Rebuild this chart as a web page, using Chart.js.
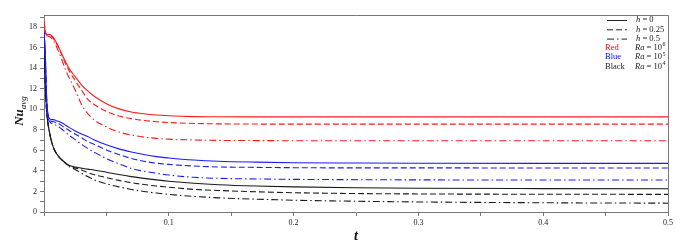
<!DOCTYPE html>
<html>
<head>
<meta charset="utf-8">
<script src="https://cdn.jsdelivr.net/npm/chart.js@4/dist/chart.umd.min.js"></script>
<style>
  body { margin: 0; background: #fff; }
  #wrap { position: relative; width: 692px; height: 252px; }
</style>
</head>
<body>
<div id="wrap"><canvas id="myChart" width="692" height="252"></canvas></div>
<script>
// time values (t)
var tValues = [0, 0.001, 0.002, 0.003, 0.005, 0.0075, 0.01, 0.0125, 0.015, 0.0175, 0.02, 0.025, 0.03, 0.035, 0.04,
  0.05, 0.06, 0.07, 0.08, 0.09, 0.1, 0.12, 0.14, 0.17, 0.2, 0.25, 0.3, 0.4, 0.5];

// Ra = 10^6
var redH0   = [18.6, 17.6, 17.3, 17.3, 17.3, 17.0, 16.5, 15.9, 15.2, 14.6, 14.0, 13.2, 12.4, 11.8, 11.3,
  10.55, 10.05, 9.75, 9.57, 9.45, 9.38, 9.3, 9.28, 9.27, 9.27, 9.27, 9.27, 9.27, 9.27];
var redH025 = [18.6, 17.6, 17.3, 17.25, 17.2, 16.9, 16.4, 15.8, 15.1, 14.4, 13.8, 12.8, 11.9, 11.0, 10.5,
  9.8, 9.35, 9.1, 8.92, 8.8, 8.72, 8.63, 8.59, 8.57, 8.56, 8.56, 8.56, 8.56, 8.56];
var redH05  = [18.6, 17.5, 17.2, 17.15, 17.05, 16.7, 16.1, 15.4, 14.6, 13.8, 13.1, 11.9, 10.5, 9.6, 9.0,
  8.3, 7.8, 7.5, 7.3, 7.18, 7.1, 7.02, 6.98, 6.96, 6.95, 6.95, 6.95, 6.95, 6.95];

// Ra = 10^5
var blueH0   = [17.6, 15.5, 11.5, 9.7, 9.05, 9.0, 8.9, 8.8, 8.65, 8.45, 8.25, 7.9, 7.6, 7.35, 7.05,
  6.55, 6.15, 5.85, 5.6, 5.4, 5.27, 5.07, 4.95, 4.86, 4.8, 4.77, 4.75, 4.74, 4.74];
var blueH025 = [17.6, 15.5, 11.4, 9.6, 8.9, 8.8, 8.68, 8.55, 8.35, 8.15, 7.95, 7.6, 7.25, 6.85, 6.6,
  6.05, 5.6, 5.22, 4.95, 4.76, 4.64, 4.48, 4.39, 4.35, 4.32, 4.3, 4.3, 4.29, 4.29];
var blueH05  = [17.6, 15.4, 11.2, 9.5, 8.74, 8.6, 8.42, 8.25, 8.0, 7.75, 7.5, 7.05, 6.6, 6.2, 5.85,
  5.2, 4.7, 4.25, 3.98, 3.78, 3.6, 3.38, 3.28, 3.22, 3.18, 3.15, 3.13, 3.12, 3.12];

// Ra = 10^4
var blackH0   = [17.5, 12.5, 10.0, 8.8, 7.4, 6.3, 5.7, 5.3, 5.0, 4.75, 4.55, 4.38, 4.28, 4.18, 4.1,
  3.88, 3.65, 3.45, 3.28, 3.13, 3.0, 2.8, 2.66, 2.53, 2.45, 2.36, 2.31, 2.28, 2.27];
var blackH025 = [17.5, 12.5, 10.0, 8.8, 7.4, 6.3, 5.7, 5.3, 5.0, 4.74, 4.5, 4.3, 4.1, 3.85, 3.65,
  3.35, 3.08, 2.85, 2.68, 2.53, 2.42, 2.2, 2.1, 1.97, 1.88, 1.8, 1.76, 1.73, 1.72];
var blackH05  = [17.5, 12.5, 10.0, 8.8, 7.4, 6.3, 5.7, 5.3, 5.0, 4.72, 4.45, 4.15, 3.8, 3.45, 3.15,
  2.75, 2.45, 2.2, 2.0, 1.85, 1.72, 1.52, 1.38, 1.25, 1.15, 1.05, 0.98, 0.9, 0.86];

// tick labels
var xTickLabels = ['0.1', '0.2', '0.3', '0.4', '0.5'];
var yTickLabels = ['0', '2', '4', '6', '8', '10', '12', '14', '16', '18'];

var SERIF = "'Liberation Serif', 'DejaVu Serif', serif";
var dashed = [6, 3];
var dashDot = [7, 3, 1.5, 3];

function makeSet(values, color, dash) {
  var pts = [];
  for (var i = 0; i < tValues.length; i++) {
    pts.push({ x: tValues[i], y: values[i] });
  }
  return {
    data: pts,
    borderColor: color,
    borderWidth: 1.1,
    borderDash: dash,
    pointRadius: 0,
    fill: false,
    cubicInterpolationMode: 'monotone'
  };
}

// frame, axis titles and the custom legend
var extras = {
  id: 'extras',
  afterDraw: function(chart) {
    var ctx = chart.ctx;
    var a = chart.chartArea;
    ctx.save();
    ctx.strokeStyle = '#777';
    ctx.lineWidth = 1;
    ctx.beginPath();
    ctx.moveTo(a.left, a.top + 0.5);
    ctx.lineTo(a.right + 0.5, a.top + 0.5);
    ctx.lineTo(a.right + 0.5, a.bottom);
    ctx.stroke();

    // x title
    ctx.fillStyle = '#111';
    ctx.textAlign = 'center';
    ctx.textBaseline = 'middle';
    ctx.font = 'italic bold 14px ' + SERIF;
    ctx.fillText('t', (a.left + a.right) / 2, 236);

    // y title
    ctx.save();
    ctx.translate(20, 111);
    ctx.rotate(-Math.PI / 2);
    ctx.textAlign = 'left';
    ctx.font = 'italic bold 13px ' + SERIF;
    var w1 = ctx.measureText('Nu').width;
    ctx.font = 'italic 9px ' + SERIF;
    var w2 = ctx.measureText('avg').width;
    var x0 = -(w1 + w2) / 2;
    ctx.font = 'italic bold 13px ' + SERIF;
    ctx.fillText('Nu', x0, 0);
    ctx.font = 'italic 9px ' + SERIF;
    ctx.fillText('avg', x0 + w1, 4);
    ctx.restore();

    // legend
    var rows = [20, 29.3, 38.6, 47.9, 57.2, 66.5];
    var dashes = [[], dashed, dashDot];
    var hText = ['0', '0.25', '0.5'];
    ctx.textBaseline = 'middle';
    ctx.textAlign = 'left';
    ctx.strokeStyle = '#222';
    for (var i = 0; i < 3; i++) {
      ctx.setLineDash(dashes[i]);
      ctx.beginPath();
      ctx.moveTo(607, rows[i] + 0.5);
      ctx.lineTo(627, rows[i] + 0.5);
      ctx.stroke();
      ctx.fillStyle = '#222';
      ctx.font = 'italic 8.5px ' + SERIF;
      ctx.fillText('h', 636, rows[i]);
      var hw = ctx.measureText('h').width;
      ctx.font = '8.5px ' + SERIF;
      ctx.fillText(' = ' + hText[i], 636 + hw, rows[i]);
    }
    ctx.setLineDash([]);
    var names = ['Red', 'Blue', 'Black'];
    var cols = ['#ff0000', '#0000ff', '#222'];
    var pw = ['6', '5', '4'];
    for (var j = 0; j < 3; j++) {
      var y = rows[j + 3];
      ctx.fillStyle = cols[j];
      ctx.font = '8.5px ' + SERIF;
      ctx.fillText(names[j], 605, y);
      ctx.fillStyle = '#222';
      ctx.font = 'italic 8.5px ' + SERIF;
      ctx.fillText('Ra', 635, y);
      var rw = ctx.measureText('Ra').width;
      ctx.font = '8.5px ' + SERIF;
      ctx.fillText(' = 10', 635 + rw, y);
      var tw = ctx.measureText(' = 10').width;
      ctx.font = '6px ' + SERIF;
      ctx.fillText(pw[j], 635 + rw + tw + 0.5, y - 3);
    }
    ctx.restore();
  }
};

var ctx = document.getElementById('myChart').getContext('2d');
var myChart = new Chart(ctx, {
  type: 'line',
  data: {
    datasets: [
      makeSet(redH0, '#ff1a1a', []),
      makeSet(redH025, '#ff1a1a', dashed),
      makeSet(redH05, '#ff1a1a', dashDot),
      makeSet(blueH0, '#1a1aff', []),
      makeSet(blueH025, '#1a1aff', dashed),
      makeSet(blueH05, '#1a1aff', dashDot),
      makeSet(blackH0, '#1a1a1a', []),
      makeSet(blackH025, '#1a1a1a', dashed),
      makeSet(blackH05, '#1a1a1a', dashDot)
    ]
  },
  options: {
    responsive: false,
    animation: false,
    layout: { padding: { top: 15, right: 24, left: 0, bottom: 0 } },
    plugins: { legend: { display: false }, tooltip: { enabled: false } },
    scales: {
      x: {
        type: 'linear',
        min: 0,
        max: 0.5,
        afterFit: function(scale) { scale.height = 40; },
        ticks: {
          stepSize: 0.05,
          includeBounds: false,
          maxRotation: 0,
          autoSkip: false,
          padding: 2,
          color: '#222',
          font: { family: SERIF, size: 8 },
          callback: function(v) {
            var k = Math.round(v * 10);
            if (Math.abs(v * 10 - k) > 1e-6 || k === 0) return '';
            return xTickLabels[k - 1];
          }
        },
        grid: { drawOnChartArea: false, tickLength: 4, color: '#777' },
        border: { color: '#777' }
      },
      y: {
        min: 0,
        max: 19.2,
        afterFit: function(scale) { scale.width = 44; },
        ticks: {
          stepSize: 1,
          includeBounds: false,
          autoSkip: false,
          padding: 3,
          color: '#222',
          font: { family: SERIF, size: 8 },
          callback: function(v) {
            if (v % 2 !== 0) return '';
            return yTickLabels[v / 2];
          }
        },
        grid: { drawOnChartArea: false, tickLength: 4, color: '#777' },
        border: { color: '#777' }
      }
    }
  },
  plugins: [extras]
});
</script>
</body>
</html>
